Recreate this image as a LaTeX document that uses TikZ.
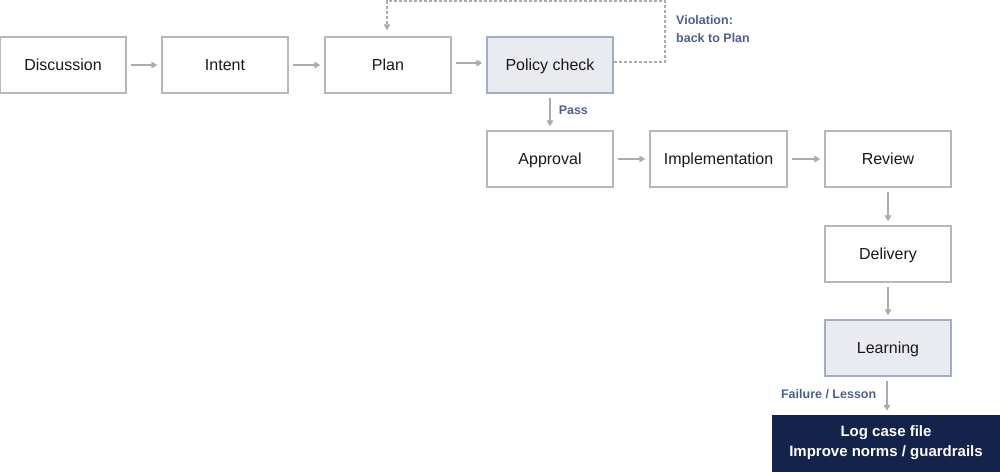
\documentclass[tikz,border=0pt]{standalone}
\usepackage{fontspec}
\setmainfont{Liberation Sans}
\usetikzlibrary{arrows.meta}
\definecolor{boxline}{HTML}{B7B7B7}
\definecolor{arrowgray}{HTML}{ABABAB}
\definecolor{hlfill}{HTML}{E9EBF0}
\definecolor{hlline}{HTML}{A3AEC6}
\definecolor{navy}{HTML}{14234B}
\definecolor{labelblue}{HTML}{4B6090}
\tikzset{
  stepbox/.style={draw=boxline, line width=1.3pt, fill=white, minimum width=126pt, minimum height=56pt, inner sep=0pt, text height=11.5pt, text depth=0pt, font=\fontsize{16}{18}\selectfont, text=black!90},
  hlbox/.style={stepbox, draw=hlline, fill=hlfill},
  finalbox/.style={fill=navy, draw=navy, minimum width=228pt, minimum height=56pt, inner sep=0pt, align=center, text=white, font=\bfseries\fontsize{15}{20}\selectfont},
  flow/.style={draw=arrowgray, line width=1.5pt, -{Triangle[length=6pt,width=6.5pt]}, shorten <=4pt, shorten >=4pt},
  loopback/.style={draw=arrowgray, line width=1.2pt, dash pattern=on 3pt off 2pt, -{Triangle[length=6pt,width=6.5pt]}},
  lbl/.style={text=labelblue, font=\bfseries\fontsize{12.5}{18}\selectfont, inner sep=0pt}
}
\begin{document}
\begin{tikzpicture}[x=1pt,y=-1pt]
\useasboundingbox (0,0) rectangle (1000,471);
\node[stepbox] (disc) at (63,65) {Discussion};
\node[stepbox] (intent) at (225,65) {Intent};
\node[stepbox] (plan) at (388,65) {Plan};
\node[hlbox] (policy) at (550,65) {Policy check};
\node[stepbox] (approval) at (550,159) {Approval};
\node[stepbox, minimum width=137pt] (impl) at (718.5,159) {Implementation};
\node[stepbox] (review) at (888,159) {Review};
\node[stepbox] (delivery) at (888,254) {Delivery};
\node[hlbox] (learning) at (888,348) {Learning};
\node[finalbox] (log) at (886,443) {Log case file\\Improve norms / guardrails};

\draw[flow] (disc) -- (intent);
\draw[flow] (intent) -- (plan);
\draw[flow] (plan.east |- 0,63) -- (policy.west |- 0,63);
\draw[flow] (policy) -- node[lbl, right=8pt, pos=0.45] {Pass} (approval);
\draw[flow] (approval) -- (impl);
\draw[flow] (impl) -- (review);
\draw[flow] (review) -- (delivery);
\draw[flow] (delivery) -- (learning);
\draw[flow] (learning.south -| 887,0) -- node[lbl, left=10pt, pos=0.45] {Failure / Lesson} (log.north -| 887,0);

\coordinate (vr) at (665,1);
\draw[loopback] (policy.east |- 0,62) -- (vr |- 0,62) -- (vr) -- (387,1) -- ([yshift=6pt]plan.north -| 387,0);
\node[lbl, anchor=north west, align=left] (viol) at (676,15) {Violation:\\back to Plan};
\end{tikzpicture}
\end{document}
